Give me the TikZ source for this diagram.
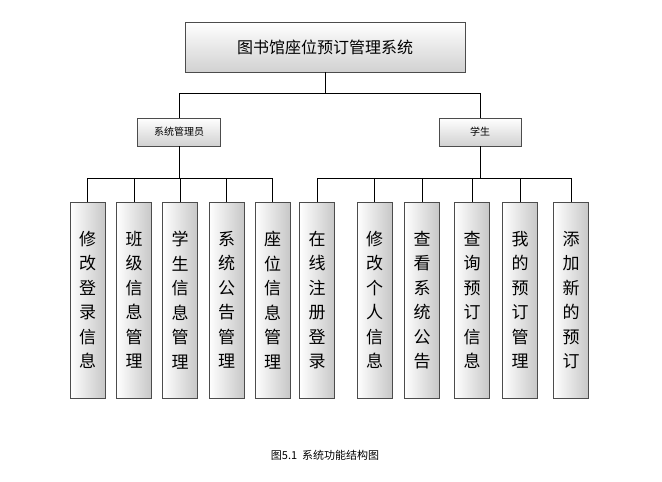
\documentclass[tikz,border=0pt]{standalone}
\usepackage{fontspec}
\newfontfamily\cjk{Noto Sans CJK SC}
\usetikzlibrary{positioning}
\tikzset{main/.style={draw=black!70, rectangle, inner sep=0pt, top color=white, bottom color=black!18, font=\cjk},
	leaf/.style={main, minimum width=35pt, minimum height=196pt, align=center, font=\cjk\fontsize{17}{24.5}\selectfont, left color=white, right color=black!22},
	conn/.style={draw=black, line width=0.7pt}}
\begin{document}
\begin{tikzpicture}[x=1pt,y=-1pt]
		\useasboundingbox (0,0) rectangle (662,482);
		\node[main, minimum width=280pt, minimum height=50pt, font=\cjk\fontsize{16}{20}\selectfont] (sys) at (325,47) {图书馆座位预订管理系统};
		\node[main, minimum width=83pt, minimum height=28pt, font=\cjk\fontsize{10}{12}\selectfont] (adm) at (179,132) {系统管理员};
		\node[main, minimum width=82pt, minimum height=28pt, font=\cjk\fontsize{10}{12}\selectfont] (stu) at (480,132) {学生};
		\coordinate (mid) at (325,93);
		\draw[conn] (sys) -- (mid) -| (adm);
		\draw[conn] (mid) -| (stu);
		
		% 管理员功能
		\node[leaf] (a1) at (87.5,300) {修\\改\\登\\录\\信\\息};
		\node[leaf] (a2) at (134,300) {班\\级\\信\\息\\管\\理};
		\node[leaf] (a3) at (180,300) {学\\生\\信\\息\\管\\理};
		\node[leaf] (a4) at (226.5,300) {系\\统\\公\\告\\管\\理};
		\node[leaf] (a5) at (272.5,300) {座\\位\\信\\息\\管\\理};
		% 学生功能
		\node[leaf] (s1) at (317,300) {在\\线\\注\\册\\登\\录};
		\node[leaf] (s2) at (374.5,300) {修\\改\\个\\人\\信\\息};
		\node[leaf] (s3) at (422,300) {查\\看\\系\\统\\公\\告};
		\node[leaf] (s4) at (472,300) {查\\询\\预\\订\\信\\息};
		\node[leaf] (s5) at (520,300) {我\\的\\预\\订\\管\\理};
		\node[leaf] (s6) at (571,300) {添\\加\\新\\的\\预\\订};
		
		\coordinate (ab) at (179,178);
		\coordinate (sb) at (480,178);
		\draw[conn] (adm) -- (ab);
		\draw[conn] (stu) -- (sb);
		\foreach \n in {a1,a2,a3,a4,a5}
			\draw[conn] (ab) -| (\n);
		\foreach \n in {s1,s2,s3,s4,s5,s6}
			\draw[conn] (sb) -| (\n);
		
		\node[font=\cjk\fontsize{11}{13}\selectfont] (cap) at (325,455) {图5.1\ \ 系统功能结构图};
	\end{tikzpicture}
\end{document}
